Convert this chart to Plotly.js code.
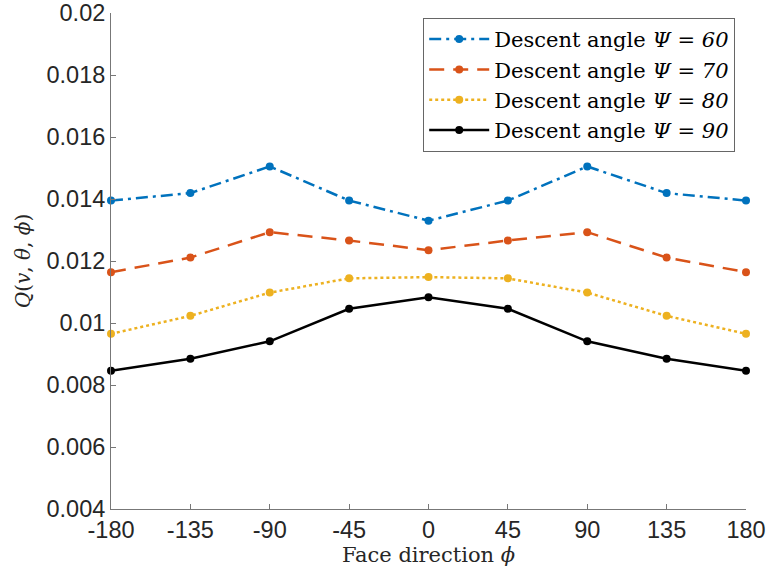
<!DOCTYPE html>
<html>
<head>
<meta charset="utf-8">
<script src="https://cdn.plot.ly/plotly-3.0.1.min.js"></script>
<style>html,body{margin:0;padding:0;background:#fff;}#chart{width:766px;height:578px;}</style>
</head>
<body>
<div id="chart"></div>
<script>
// Face direction (degrees)
const faceDirection = [-180, -135, -90, -45, 0, 45, 90, 135, 180];

// Q(v, theta, phi) per descent angle
const psi60 = [0.01395, 0.01419, 0.01505, 0.01395, 0.01330, 0.01395, 0.01505, 0.01419, 0.01395];
const psi70 = [0.01164, 0.01211, 0.01293, 0.01266, 0.01235, 0.01266, 0.01293, 0.01211, 0.01164];
const psi80 = [0.00965, 0.01023, 0.01098, 0.01144, 0.01148, 0.01144, 0.01098, 0.01023, 0.00965];
const psi90 = [0.00846, 0.00885, 0.00941, 0.01046, 0.01083, 0.01046, 0.00941, 0.00885, 0.00846];

const seriesNames = [
  'Descent angle <i>Ψ</i> = <i>60</i>',
  'Descent angle <i>Ψ</i> = <i>70</i>',
  'Descent angle <i>Ψ</i> = <i>80</i>',
  'Descent angle <i>Ψ</i> = <i>90</i>'
];

const xTickVals = [-180, -135, -90, -45, 0, 45, 90, 135, 180];
const xTickText = ['-180', '-135', '-90', '-45', '0', '45', '90', '135', '180'];
const yTickVals = [0.004, 0.006, 0.008, 0.010, 0.012, 0.014, 0.016, 0.018, 0.020];
const yTickText = ['0.004', '0.006', '0.008', '0.01', '0.012', '0.014', '0.016', '0.018', '0.02'];

const colors = ['#0072BD', '#D95319', '#EDB120', '#000000'];
const dashes = ['12px,5px,3px,5px', '15px,9px', '3px,3px', 'solid'];
const data = [psi60, psi70, psi80, psi90].map((ys, i) => ({
  x: faceDirection,
  y: ys,
  name: seriesNames[i],
  type: 'scatter',
  mode: 'lines+markers',
  cliponaxis: false,
  line: {color: colors[i], width: 2.5, dash: dashes[i]},
  marker: {color: colors[i], size: 8}
}));

const tickFont = {family: '"Liberation Sans", Arial, sans-serif', size: 23.5, color: '#262626'};
const serif = '"DejaVu Serif", "Liberation Serif", serif';

const layout = {
  width: 766,
  height: 578,
  margin: {l: 111, r: 20, t: 13, b: 69},
  paper_bgcolor: '#ffffff',
  plot_bgcolor: '#ffffff',
  showlegend: true,
  xaxis: {
    range: [-180, 180],
    tickvals: xTickVals,
    ticktext: xTickText,
    ticks: 'inside',
    ticklen: 5,
    tickcolor: '#777',
    showline: true,
    linecolor: '#777',
    linewidth: 1,
    showgrid: false,
    zeroline: false,
    tickfont: tickFont,
    ticklabeloverflow: 'allow',
    title: {text: 'Face direction <i>ϕ</i>', font: {family: serif, size: 21, color: '#262626'}, standoff: 4}
  },
  yaxis: {
    range: [0.004, 0.020],
    tickvals: yTickVals,
    ticktext: yTickText,
    ticks: 'inside',
    ticklen: 5,
    tickcolor: '#777',
    showline: true,
    linecolor: '#777',
    linewidth: 1,
    showgrid: false,
    zeroline: false,
    tickfont: tickFont,
    ticklabeloverflow: 'allow',
    title: {text: '<i>Q</i>(<i>v</i>, <i>θ</i>, <i>ϕ</i>)', font: {family: serif, size: 20, color: '#262626'}, standoff: 10}
  },
  legend: {
    x: 0.983,
    y: 0.99,
    xanchor: 'right',
    yanchor: 'top',
    bgcolor: '#ffffff',
    bordercolor: '#666',
    borderwidth: 1,
    itemwidth: 60,
    font: {family: serif, size: 21, color: '#000'},
    tracegroupgap: 0
  }
};

Plotly.newPlot('chart', data, layout, {displayModeBar: false, staticPlot: true});
</script>
</body>
</html>
